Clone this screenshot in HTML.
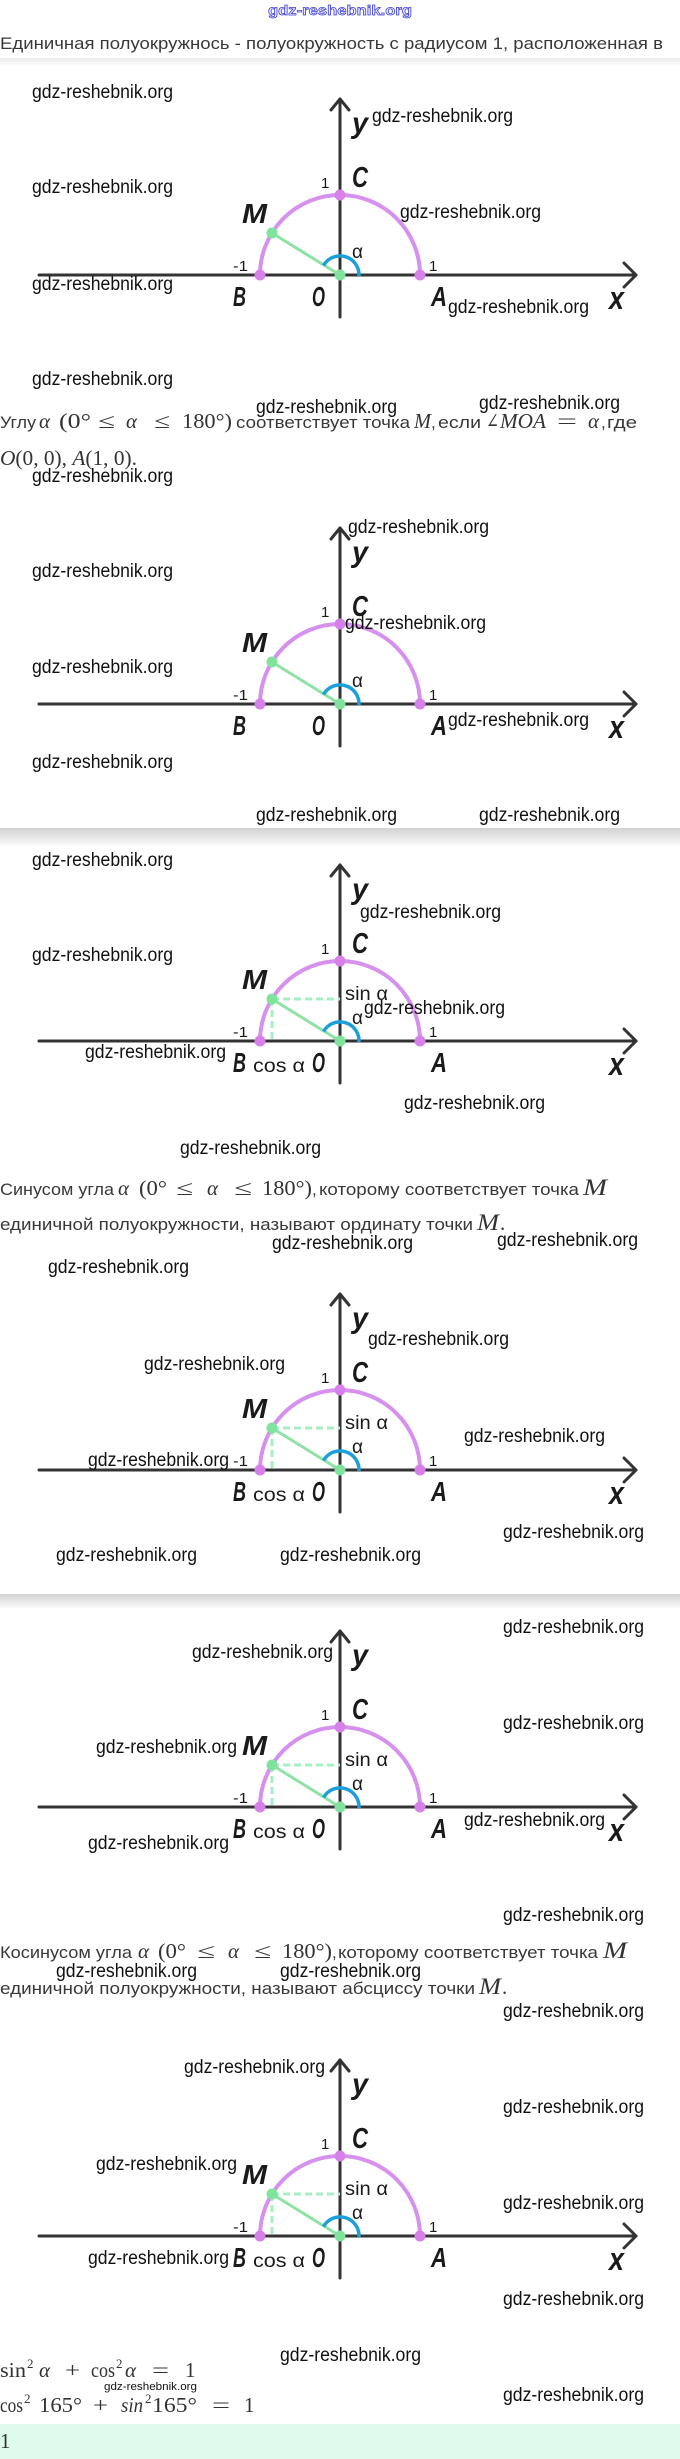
<!DOCTYPE html>
<html><head><meta charset="utf-8"><style>
html,body{margin:0;padding:0;background:#fff;}
svg{display:block;}
.ax{stroke:#333;stroke-width:3;fill:none;stroke-linecap:round;stroke-linejoin:round;}
.arc{stroke:#d690ee;stroke-width:4;fill:none;}
.gl{stroke:#8ee2a6;stroke-width:3;}
.ds{stroke:#a6efc2;stroke-width:3;stroke-dasharray:7 4;}
.bl{stroke:#1d9fdc;stroke-width:3.5;fill:none;}
.vd{fill:#d880ea;}
.gd{fill:#7fe39e;}
.L{font-family:"Liberation Sans",sans-serif;font-weight:bold;font-style:italic;font-size:28px;fill:#1a1a1a;}
.s{font-family:"Liberation Sans",sans-serif;font-size:15px;fill:#1a1a1a;}
.g{font-family:"Liberation Sans",sans-serif;font-size:19px;fill:#1a1a1a;}
.w{font-family:"Liberation Sans",sans-serif;font-size:19px;fill:#111;}
.t{font-family:"Liberation Sans","DejaVu Sans",sans-serif;font-size:17px;fill:#383838;}
.m{font-family:"Liberation Serif","DejaVu Serif",serif;font-size:21px;fill:#333;}
.mi{font-family:"Liberation Serif","DejaVu Serif",serif;font-size:21px;font-style:italic;fill:#333;}
</style></head><body>
<svg width="680" height="2459" viewBox="0 0 680 2459" xmlns="http://www.w3.org/2000/svg">
<defs>
<linearGradient id="sh" x1="0" y1="0" x2="0" y2="1"><stop offset="0" stop-color="#d2d2d2"/><stop offset="1" stop-color="#fbfbfb"/></linearGradient>
<linearGradient id="sh2" x1="0" y1="0" x2="0" y2="1"><stop offset="0" stop-color="#ebebeb"/><stop offset="1" stop-color="#ffffff"/></linearGradient>
</defs>
<rect x="0" y="0" width="680" height="2459" fill="#fff"/>

<!-- header -->
<text x="268" y="15" textLength="144" lengthAdjust="spacingAndGlyphs" style="font-family:'Liberation Sans',sans-serif;font-weight:bold;font-size:14px;fill:#eef0ff;stroke:#3a3ad8;stroke-width:0.7px">gdz-reshebnik.org</text>
<text class="t" x="0" y="49" textLength="663" lengthAdjust="spacingAndGlyphs">Единичная полуокружнось - полуокружность с радиусом 1, расположенная в</text>
<rect x="0" y="58" width="680" height="9" fill="url(#sh2)"/>

<!-- separators -->
<rect x="0" y="828" width="680" height="18" fill="url(#sh)"/>
<rect x="0" y="1594" width="680" height="14" fill="url(#sh)"/>

<!-- Diagram 1 -->
<g transform="translate(0,275)">
<line x1="39" y1="0" x2="636" y2="0" class="ax"/>
<polyline points="624,-12 636,0 624,12" class="ax"/>
<line x1="340" y1="-176" x2="340" y2="42" class="ax"/>
<polyline points="331,-165 340,-176 349,-165" class="ax"/>
<path d="M260 0 A80 80 0 0 1 420 0" class="arc"/>
<line x1="340" y1="0" x2="272" y2="-42" class="gl"/>
<path d="M359 1 A19 19 0 0 0 323.5 -9.5" class="bl"/>
<circle cx="260" cy="0" r="5.5" class="vd"/><circle cx="340" cy="-80" r="5.5" class="vd"/><circle cx="420" cy="0" r="5.5" class="vd"/>
<circle cx="340" cy="0" r="5.5" class="gd"/><circle cx="272" cy="-42" r="5.5" class="gd"/>
<text class="L" x="352" y="-142" textLength="16" lengthAdjust="spacingAndGlyphs" style="font-size:30px">y</text>
<text class="L" x="352" y="-88" textLength="16" lengthAdjust="spacingAndGlyphs" style="font-size:29px">C</text>
<text class="L" x="242" y="-52" textLength="25" lengthAdjust="spacingAndGlyphs">M</text>
<text class="L" x="233" y="31" textLength="13" lengthAdjust="spacingAndGlyphs">B</text>
<text class="L" x="312" y="31" textLength="13" lengthAdjust="spacingAndGlyphs">O</text>
<text class="L" x="431" y="31" textLength="16" lengthAdjust="spacingAndGlyphs">A</text>
<text class="L" x="609" y="34" textLength="15" lengthAdjust="spacingAndGlyphs" style="font-size:32px">x</text>
<text class="s" x="321" y="-87">1</text>
<text class="s" x="233" y="-4" textLength="15" lengthAdjust="spacingAndGlyphs">-1</text>
<text class="s" x="429" y="-4">1</text>
<text class="g" x="352" y="-17" textLength="11" lengthAdjust="spacingAndGlyphs">α</text>
</g>

<!-- Diagram 2 -->
<g transform="translate(0,704)">
<line x1="39" y1="0" x2="636" y2="0" class="ax"/>
<polyline points="624,-12 636,0 624,12" class="ax"/>
<line x1="340" y1="-176" x2="340" y2="42" class="ax"/>
<polyline points="331,-165 340,-176 349,-165" class="ax"/>
<path d="M260 0 A80 80 0 0 1 420 0" class="arc"/>
<line x1="340" y1="0" x2="272" y2="-42" class="gl"/>
<path d="M359 1 A19 19 0 0 0 323.5 -9.5" class="bl"/>
<circle cx="260" cy="0" r="5.5" class="vd"/><circle cx="340" cy="-80" r="5.5" class="vd"/><circle cx="420" cy="0" r="5.5" class="vd"/>
<circle cx="340" cy="0" r="5.5" class="gd"/><circle cx="272" cy="-42" r="5.5" class="gd"/>
<text class="L" x="352" y="-142" textLength="16" lengthAdjust="spacingAndGlyphs" style="font-size:30px">y</text>
<text class="L" x="352" y="-88" textLength="16" lengthAdjust="spacingAndGlyphs" style="font-size:29px">C</text>
<text class="L" x="242" y="-52" textLength="25" lengthAdjust="spacingAndGlyphs">M</text>
<text class="L" x="233" y="31" textLength="13" lengthAdjust="spacingAndGlyphs">B</text>
<text class="L" x="312" y="31" textLength="13" lengthAdjust="spacingAndGlyphs">O</text>
<text class="L" x="431" y="31" textLength="16" lengthAdjust="spacingAndGlyphs">A</text>
<text class="L" x="609" y="34" textLength="15" lengthAdjust="spacingAndGlyphs" style="font-size:32px">x</text>
<text class="s" x="321" y="-87">1</text>
<text class="s" x="233" y="-4" textLength="15" lengthAdjust="spacingAndGlyphs">-1</text>
<text class="s" x="429" y="-4">1</text>
<text class="g" x="352" y="-17" textLength="11" lengthAdjust="spacingAndGlyphs">α</text>
</g>

<!-- Diagrams 3-6 -->
<g transform="translate(0,1041)">
<line x1="39" y1="0" x2="636" y2="0" class="ax"/>
<polyline points="624,-12 636,0 624,12" class="ax"/>
<line x1="340" y1="-176" x2="340" y2="42" class="ax"/>
<polyline points="331,-165 340,-176 349,-165" class="ax"/>
<path d="M260 0 A80 80 0 0 1 420 0" class="arc"/>
<line x1="272" y1="-42" x2="340" y2="-42" class="ds"/>
<line x1="272" y1="-42" x2="272" y2="0" class="ds"/>
<line x1="340" y1="0" x2="272" y2="-42" class="gl"/>
<path d="M359 1 A19 19 0 0 0 323.5 -9.5" class="bl"/>
<circle cx="260" cy="0" r="5.5" class="vd"/><circle cx="340" cy="-80" r="5.5" class="vd"/><circle cx="420" cy="0" r="5.5" class="vd"/>
<circle cx="340" cy="0" r="5.5" class="gd"/><circle cx="272" cy="-42" r="5.5" class="gd"/>
<text class="L" x="352" y="-142" textLength="16" lengthAdjust="spacingAndGlyphs" style="font-size:30px">y</text>
<text class="L" x="352" y="-88" textLength="16" lengthAdjust="spacingAndGlyphs" style="font-size:29px">C</text>
<text class="L" x="242" y="-52" textLength="25" lengthAdjust="spacingAndGlyphs">M</text>
<text class="L" x="233" y="31" textLength="13" lengthAdjust="spacingAndGlyphs">B</text>
<text class="L" x="312" y="31" textLength="13" lengthAdjust="spacingAndGlyphs">O</text>
<text class="L" x="431" y="31" textLength="16" lengthAdjust="spacingAndGlyphs">A</text>
<text class="L" x="609" y="34" textLength="15" lengthAdjust="spacingAndGlyphs" style="font-size:32px">x</text>
<text class="s" x="321" y="-87">1</text>
<text class="s" x="233" y="-4" textLength="15" lengthAdjust="spacingAndGlyphs">-1</text>
<text class="s" x="429" y="-4">1</text>
<text class="g" x="352" y="-17" textLength="11" lengthAdjust="spacingAndGlyphs">α</text>
<text class="g" x="345" y="-41" textLength="43" lengthAdjust="spacingAndGlyphs">sin α</text>
<text class="g" x="253" y="31" textLength="52" lengthAdjust="spacingAndGlyphs">cos α</text>
</g>

<g transform="translate(0,1470)">
<line x1="39" y1="0" x2="636" y2="0" class="ax"/>
<polyline points="624,-12 636,0 624,12" class="ax"/>
<line x1="340" y1="-176" x2="340" y2="42" class="ax"/>
<polyline points="331,-165 340,-176 349,-165" class="ax"/>
<path d="M260 0 A80 80 0 0 1 420 0" class="arc"/>
<line x1="272" y1="-42" x2="340" y2="-42" class="ds"/>
<line x1="272" y1="-42" x2="272" y2="0" class="ds"/>
<line x1="340" y1="0" x2="272" y2="-42" class="gl"/>
<path d="M359 1 A19 19 0 0 0 323.5 -9.5" class="bl"/>
<circle cx="260" cy="0" r="5.5" class="vd"/><circle cx="340" cy="-80" r="5.5" class="vd"/><circle cx="420" cy="0" r="5.5" class="vd"/>
<circle cx="340" cy="0" r="5.5" class="gd"/><circle cx="272" cy="-42" r="5.5" class="gd"/>
<text class="L" x="352" y="-142" textLength="16" lengthAdjust="spacingAndGlyphs" style="font-size:30px">y</text>
<text class="L" x="352" y="-88" textLength="16" lengthAdjust="spacingAndGlyphs" style="font-size:29px">C</text>
<text class="L" x="242" y="-52" textLength="25" lengthAdjust="spacingAndGlyphs">M</text>
<text class="L" x="233" y="31" textLength="13" lengthAdjust="spacingAndGlyphs">B</text>
<text class="L" x="312" y="31" textLength="13" lengthAdjust="spacingAndGlyphs">O</text>
<text class="L" x="431" y="31" textLength="16" lengthAdjust="spacingAndGlyphs">A</text>
<text class="L" x="609" y="34" textLength="15" lengthAdjust="spacingAndGlyphs" style="font-size:32px">x</text>
<text class="s" x="321" y="-87">1</text>
<text class="s" x="233" y="-4" textLength="15" lengthAdjust="spacingAndGlyphs">-1</text>
<text class="s" x="429" y="-4">1</text>
<text class="g" x="352" y="-17" textLength="11" lengthAdjust="spacingAndGlyphs">α</text>
<text class="g" x="345" y="-41" textLength="43" lengthAdjust="spacingAndGlyphs">sin α</text>
<text class="g" x="253" y="31" textLength="52" lengthAdjust="spacingAndGlyphs">cos α</text>
</g>

<g transform="translate(0,1807)">
<line x1="39" y1="0" x2="636" y2="0" class="ax"/>
<polyline points="624,-12 636,0 624,12" class="ax"/>
<line x1="340" y1="-176" x2="340" y2="42" class="ax"/>
<polyline points="331,-165 340,-176 349,-165" class="ax"/>
<path d="M260 0 A80 80 0 0 1 420 0" class="arc"/>
<line x1="272" y1="-42" x2="340" y2="-42" class="ds"/>
<line x1="272" y1="-42" x2="272" y2="0" class="ds"/>
<line x1="340" y1="0" x2="272" y2="-42" class="gl"/>
<path d="M359 1 A19 19 0 0 0 323.5 -9.5" class="bl"/>
<circle cx="260" cy="0" r="5.5" class="vd"/><circle cx="340" cy="-80" r="5.5" class="vd"/><circle cx="420" cy="0" r="5.5" class="vd"/>
<circle cx="340" cy="0" r="5.5" class="gd"/><circle cx="272" cy="-42" r="5.5" class="gd"/>
<text class="L" x="352" y="-142" textLength="16" lengthAdjust="spacingAndGlyphs" style="font-size:30px">y</text>
<text class="L" x="352" y="-88" textLength="16" lengthAdjust="spacingAndGlyphs" style="font-size:29px">C</text>
<text class="L" x="242" y="-52" textLength="25" lengthAdjust="spacingAndGlyphs">M</text>
<text class="L" x="233" y="31" textLength="13" lengthAdjust="spacingAndGlyphs">B</text>
<text class="L" x="312" y="31" textLength="13" lengthAdjust="spacingAndGlyphs">O</text>
<text class="L" x="431" y="31" textLength="16" lengthAdjust="spacingAndGlyphs">A</text>
<text class="L" x="609" y="34" textLength="15" lengthAdjust="spacingAndGlyphs" style="font-size:32px">x</text>
<text class="s" x="321" y="-87">1</text>
<text class="s" x="233" y="-4" textLength="15" lengthAdjust="spacingAndGlyphs">-1</text>
<text class="s" x="429" y="-4">1</text>
<text class="g" x="352" y="-17" textLength="11" lengthAdjust="spacingAndGlyphs">α</text>
<text class="g" x="345" y="-41" textLength="43" lengthAdjust="spacingAndGlyphs">sin α</text>
<text class="g" x="253" y="31" textLength="52" lengthAdjust="spacingAndGlyphs">cos α</text>
</g>

<g transform="translate(0,2236)">
<line x1="39" y1="0" x2="636" y2="0" class="ax"/>
<polyline points="624,-12 636,0 624,12" class="ax"/>
<line x1="340" y1="-176" x2="340" y2="42" class="ax"/>
<polyline points="331,-165 340,-176 349,-165" class="ax"/>
<path d="M260 0 A80 80 0 0 1 420 0" class="arc"/>
<line x1="272" y1="-42" x2="340" y2="-42" class="ds"/>
<line x1="272" y1="-42" x2="272" y2="0" class="ds"/>
<line x1="340" y1="0" x2="272" y2="-42" class="gl"/>
<path d="M359 1 A19 19 0 0 0 323.5 -9.5" class="bl"/>
<circle cx="260" cy="0" r="5.5" class="vd"/><circle cx="340" cy="-80" r="5.5" class="vd"/><circle cx="420" cy="0" r="5.5" class="vd"/>
<circle cx="340" cy="0" r="5.5" class="gd"/><circle cx="272" cy="-42" r="5.5" class="gd"/>
<text class="L" x="352" y="-142" textLength="16" lengthAdjust="spacingAndGlyphs" style="font-size:30px">y</text>
<text class="L" x="352" y="-88" textLength="16" lengthAdjust="spacingAndGlyphs" style="font-size:29px">C</text>
<text class="L" x="242" y="-52" textLength="25" lengthAdjust="spacingAndGlyphs">M</text>
<text class="L" x="233" y="31" textLength="13" lengthAdjust="spacingAndGlyphs">B</text>
<text class="L" x="312" y="31" textLength="13" lengthAdjust="spacingAndGlyphs">O</text>
<text class="L" x="431" y="31" textLength="16" lengthAdjust="spacingAndGlyphs">A</text>
<text class="L" x="609" y="34" textLength="15" lengthAdjust="spacingAndGlyphs" style="font-size:32px">x</text>
<text class="s" x="321" y="-87">1</text>
<text class="s" x="233" y="-4" textLength="15" lengthAdjust="spacingAndGlyphs">-1</text>
<text class="s" x="429" y="-4">1</text>
<text class="g" x="352" y="-17" textLength="11" lengthAdjust="spacingAndGlyphs">α</text>
<text class="g" x="345" y="-41" textLength="43" lengthAdjust="spacingAndGlyphs">sin α</text>
<text class="g" x="253" y="31" textLength="52" lengthAdjust="spacingAndGlyphs">cos α</text>
</g>

<!-- Text: Углу ... -->
<text class="t" x="0" y="428" textLength="36" lengthAdjust="spacingAndGlyphs">Углу</text>
<text class="mi" x="39" y="428">α</text>
<text class="m" x="59" y="428" textLength="32" lengthAdjust="spacingAndGlyphs">(0°</text>
<text class="m" x="98" y="428" textLength="17" lengthAdjust="spacingAndGlyphs">≤</text>
<text class="mi" x="126" y="428">α</text>
<text class="m" x="154" y="428" textLength="16" lengthAdjust="spacingAndGlyphs">≤</text>
<text class="m" x="182" y="428" textLength="50" lengthAdjust="spacingAndGlyphs">180°)</text>
<text class="t" x="236" y="428" textLength="174" lengthAdjust="spacingAndGlyphs">соответствует точка</text>
<text class="mi" x="414" y="428" textLength="17" lengthAdjust="spacingAndGlyphs">M</text>
<text class="t" x="431" y="428">,</text>
<text class="t" x="438" y="428" textLength="43" lengthAdjust="spacingAndGlyphs">если</text>
<text class="m" x="486" y="428" textLength="13" lengthAdjust="spacingAndGlyphs">∠</text>
<text class="mi" x="500" y="428" textLength="46" lengthAdjust="spacingAndGlyphs">MOA</text>
<text class="m" x="557" y="428" textLength="20" lengthAdjust="spacingAndGlyphs">=</text>
<text class="mi" x="588" y="428">α</text>
<text class="t" x="601" y="428">,</text>
<text class="t" x="607" y="428" textLength="30" lengthAdjust="spacingAndGlyphs">где</text>
<text class="m" x="0" y="465" textLength="137" lengthAdjust="spacingAndGlyphs"><tspan font-style="italic">O</tspan>(0, 0), <tspan font-style="italic">A</tspan>(1, 0).</text>

<!-- Синусом -->
<text class="t" x="0" y="1195" textLength="114" lengthAdjust="spacingAndGlyphs">Синусом угла</text>
<text class="mi" x="118" y="1195">α</text>
<text class="m" x="139" y="1195" textLength="28" lengthAdjust="spacingAndGlyphs">(0°</text>
<text class="m" x="176" y="1195" textLength="17" lengthAdjust="spacingAndGlyphs">≤</text>
<text class="mi" x="207" y="1195">α</text>
<text class="m" x="234" y="1195" textLength="18" lengthAdjust="spacingAndGlyphs">≤</text>
<text class="m" x="262" y="1195" textLength="50" lengthAdjust="spacingAndGlyphs">180°)</text>
<text class="t" x="312" y="1195">,</text>
<text class="t" x="319" y="1195" textLength="260" lengthAdjust="spacingAndGlyphs">которому соответствует точка</text>
<text class="mi" x="583" y="1195" textLength="24" lengthAdjust="spacingAndGlyphs" style="font-size:23px">M</text>
<text class="t" x="0" y="1230" textLength="473" lengthAdjust="spacingAndGlyphs">единичной полуокружности, называют ординату точки</text>
<text class="mi" x="477" y="1230" textLength="22" lengthAdjust="spacingAndGlyphs" style="font-size:23px">M</text>
<text class="m" x="500" y="1230">.</text>

<!-- Косинусом -->
<text class="t" x="0" y="1958" textLength="132" lengthAdjust="spacingAndGlyphs">Косинусом угла</text>
<text class="mi" x="138" y="1958">α</text>
<text class="m" x="158" y="1958" textLength="28" lengthAdjust="spacingAndGlyphs">(0°</text>
<text class="m" x="197" y="1958" textLength="18" lengthAdjust="spacingAndGlyphs">≤</text>
<text class="mi" x="228" y="1958">α</text>
<text class="m" x="254" y="1958" textLength="17" lengthAdjust="spacingAndGlyphs">≤</text>
<text class="m" x="282" y="1958" textLength="50" lengthAdjust="spacingAndGlyphs">180°)</text>
<text class="t" x="332" y="1958">,</text>
<text class="t" x="338" y="1958" textLength="260" lengthAdjust="spacingAndGlyphs">которому соответствует точка</text>
<text class="mi" x="603" y="1958" textLength="24" lengthAdjust="spacingAndGlyphs" style="font-size:23px">M</text>
<text class="t" x="0" y="1994" textLength="475" lengthAdjust="spacingAndGlyphs">единичной полуокружности, называют абсциссу точки</text>
<text class="mi" x="479" y="1994" textLength="22" lengthAdjust="spacingAndGlyphs" style="font-size:23px">M</text>
<text class="m" x="502" y="1994">.</text>

<!-- equations -->
<text class="m" x="0" y="2377" textLength="26" lengthAdjust="spacingAndGlyphs">sin</text>
<text class="m" x="27" y="2368" style="font-size:13px">2</text>
<text class="mi" x="39" y="2377">α</text>
<text class="m" x="65" y="2377" textLength="15" lengthAdjust="spacingAndGlyphs">+</text>
<text class="m" x="91" y="2377" textLength="24" lengthAdjust="spacingAndGlyphs">cos</text>
<text class="m" x="116" y="2368" style="font-size:13px">2</text>
<text class="mi" x="125" y="2377">α</text>
<text class="m" x="152" y="2377" textLength="17" lengthAdjust="spacingAndGlyphs">=</text>
<text class="m" x="185" y="2377">1</text>

<text class="m" x="0" y="2412" textLength="23" lengthAdjust="spacingAndGlyphs">cos</text>
<text class="m" x="24" y="2403" style="font-size:13px">2</text>
<text class="m" x="39" y="2412" textLength="43" lengthAdjust="spacingAndGlyphs">165°</text>
<text class="m" x="93" y="2412" textLength="15" lengthAdjust="spacingAndGlyphs">+</text>
<text class="mi" x="121" y="2412" textLength="22" lengthAdjust="spacingAndGlyphs">sin</text>
<text class="m" x="145" y="2403" style="font-size:13px">2</text>
<text class="m" x="152" y="2412" textLength="45" lengthAdjust="spacingAndGlyphs">165°</text>
<text class="m" x="212" y="2412" textLength="18" lengthAdjust="spacingAndGlyphs">=</text>
<text class="m" x="244" y="2412">1</text>

<rect x="0" y="2424" width="680" height="35" fill="#dcfbea"/>
<text class="m" x="0" y="2448">1</text>

<text x="104" y="2390" textLength="93" lengthAdjust="spacingAndGlyphs" style="font-family:'Liberation Sans',sans-serif;font-size:11px;fill:#111">gdz-reshebnik.org</text>

<!-- watermarks -->
<g class="w">
<text x="32" y="98" textLength="141" lengthAdjust="spacingAndGlyphs">gdz-reshebnik.org</text>
<text x="32" y="193" textLength="141" lengthAdjust="spacingAndGlyphs">gdz-reshebnik.org</text>
<text x="32" y="290" textLength="141" lengthAdjust="spacingAndGlyphs">gdz-reshebnik.org</text>
<text x="32" y="385" textLength="141" lengthAdjust="spacingAndGlyphs">gdz-reshebnik.org</text>
<text x="372" y="122" textLength="141" lengthAdjust="spacingAndGlyphs">gdz-reshebnik.org</text>
<text x="400" y="218" textLength="141" lengthAdjust="spacingAndGlyphs">gdz-reshebnik.org</text>
<text x="448" y="313" textLength="141" lengthAdjust="spacingAndGlyphs">gdz-reshebnik.org</text>
<text x="256" y="413" textLength="141" lengthAdjust="spacingAndGlyphs">gdz-reshebnik.org</text>
<text x="479" y="409" textLength="141" lengthAdjust="spacingAndGlyphs">gdz-reshebnik.org</text>
<text x="32" y="482" textLength="141" lengthAdjust="spacingAndGlyphs">gdz-reshebnik.org</text>
<text x="348" y="533" textLength="141" lengthAdjust="spacingAndGlyphs">gdz-reshebnik.org</text>
<text x="32" y="577" textLength="141" lengthAdjust="spacingAndGlyphs">gdz-reshebnik.org</text>
<text x="345" y="629" textLength="141" lengthAdjust="spacingAndGlyphs">gdz-reshebnik.org</text>
<text x="32" y="673" textLength="141" lengthAdjust="spacingAndGlyphs">gdz-reshebnik.org</text>
<text x="448" y="726" textLength="141" lengthAdjust="spacingAndGlyphs">gdz-reshebnik.org</text>
<text x="32" y="768" textLength="141" lengthAdjust="spacingAndGlyphs">gdz-reshebnik.org</text>
<text x="256" y="821" textLength="141" lengthAdjust="spacingAndGlyphs">gdz-reshebnik.org</text>
<text x="479" y="821" textLength="141" lengthAdjust="spacingAndGlyphs">gdz-reshebnik.org</text>
<text x="32" y="866" textLength="141" lengthAdjust="spacingAndGlyphs">gdz-reshebnik.org</text>
<text x="360" y="918" textLength="141" lengthAdjust="spacingAndGlyphs">gdz-reshebnik.org</text>
<text x="32" y="961" textLength="141" lengthAdjust="spacingAndGlyphs">gdz-reshebnik.org</text>
<text x="364" y="1014" textLength="141" lengthAdjust="spacingAndGlyphs">gdz-reshebnik.org</text>
<text x="85" y="1058" textLength="141" lengthAdjust="spacingAndGlyphs">gdz-reshebnik.org</text>
<text x="404" y="1109" textLength="141" lengthAdjust="spacingAndGlyphs">gdz-reshebnik.org</text>
<text x="180" y="1154" textLength="141" lengthAdjust="spacingAndGlyphs">gdz-reshebnik.org</text>
<text x="272" y="1249" textLength="141" lengthAdjust="spacingAndGlyphs">gdz-reshebnik.org</text>
<text x="497" y="1246" textLength="141" lengthAdjust="spacingAndGlyphs">gdz-reshebnik.org</text>
<text x="48" y="1273" textLength="141" lengthAdjust="spacingAndGlyphs">gdz-reshebnik.org</text>
<text x="368" y="1345" textLength="141" lengthAdjust="spacingAndGlyphs">gdz-reshebnik.org</text>
<text x="144" y="1370" textLength="141" lengthAdjust="spacingAndGlyphs">gdz-reshebnik.org</text>
<text x="464" y="1442" textLength="141" lengthAdjust="spacingAndGlyphs">gdz-reshebnik.org</text>
<text x="88" y="1466" textLength="141" lengthAdjust="spacingAndGlyphs">gdz-reshebnik.org</text>
<text x="503" y="1538" textLength="141" lengthAdjust="spacingAndGlyphs">gdz-reshebnik.org</text>
<text x="56" y="1561" textLength="141" lengthAdjust="spacingAndGlyphs">gdz-reshebnik.org</text>
<text x="280" y="1561" textLength="141" lengthAdjust="spacingAndGlyphs">gdz-reshebnik.org</text>
<text x="503" y="1633" textLength="141" lengthAdjust="spacingAndGlyphs">gdz-reshebnik.org</text>
<text x="192" y="1658" textLength="141" lengthAdjust="spacingAndGlyphs">gdz-reshebnik.org</text>
<text x="503" y="1729" textLength="141" lengthAdjust="spacingAndGlyphs">gdz-reshebnik.org</text>
<text x="96" y="1753" textLength="141" lengthAdjust="spacingAndGlyphs">gdz-reshebnik.org</text>
<text x="464" y="1826" textLength="141" lengthAdjust="spacingAndGlyphs">gdz-reshebnik.org</text>
<text x="88" y="1849" textLength="141" lengthAdjust="spacingAndGlyphs">gdz-reshebnik.org</text>
<text x="503" y="1921" textLength="141" lengthAdjust="spacingAndGlyphs">gdz-reshebnik.org</text>
<text x="56" y="1977" textLength="141" lengthAdjust="spacingAndGlyphs">gdz-reshebnik.org</text>
<text x="280" y="1977" textLength="141" lengthAdjust="spacingAndGlyphs">gdz-reshebnik.org</text>
<text x="503" y="2017" textLength="141" lengthAdjust="spacingAndGlyphs">gdz-reshebnik.org</text>
<text x="184" y="2073" textLength="141" lengthAdjust="spacingAndGlyphs">gdz-reshebnik.org</text>
<text x="503" y="2113" textLength="141" lengthAdjust="spacingAndGlyphs">gdz-reshebnik.org</text>
<text x="96" y="2170" textLength="141" lengthAdjust="spacingAndGlyphs">gdz-reshebnik.org</text>
<text x="503" y="2209" textLength="141" lengthAdjust="spacingAndGlyphs">gdz-reshebnik.org</text>
<text x="88" y="2264" textLength="141" lengthAdjust="spacingAndGlyphs">gdz-reshebnik.org</text>
<text x="503" y="2305" textLength="141" lengthAdjust="spacingAndGlyphs">gdz-reshebnik.org</text>
<text x="280" y="2361" textLength="141" lengthAdjust="spacingAndGlyphs">gdz-reshebnik.org</text>
<text x="503" y="2401" textLength="141" lengthAdjust="spacingAndGlyphs">gdz-reshebnik.org</text>
</g>
</svg>
</body></html>
